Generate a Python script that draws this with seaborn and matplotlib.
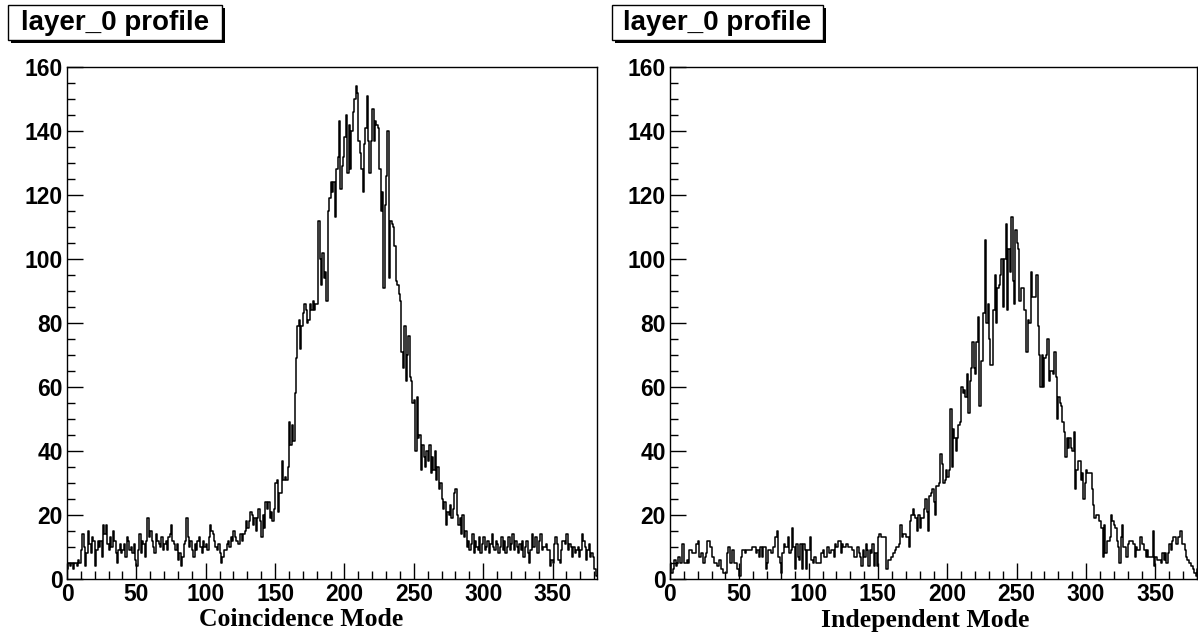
import numpy as np
import pandas as pd
import matplotlib
matplotlib.use("Agg")
import matplotlib.pyplot as plt
import seaborn as sns
from matplotlib.patches import Rectangle
from matplotlib.ticker import MultipleLocator

# ---- data (counts per unit-wide bin) ----
coincidence_counts = [
    3, 5, 4, 5, 3, 5, 5, 4, 6, 5,
    9, 14, 10, 4, 8, 15, 11, 8, 13, 12,
    4, 9, 12, 10, 12, 7, 17, 14, 17, 11,
    9, 13, 10, 15, 12, 8, 5, 9, 11, 8,
    9, 11, 7, 13, 12, 9, 10, 8, 11, 6,
    4, 9, 14, 8, 12, 11, 7, 12, 19, 13,
    15, 12, 10, 8, 14, 12, 11, 10, 13, 9,
    11, 12, 9, 13, 14, 17, 12, 11, 9, 11,
    6, 8, 4, 7, 11, 12, 19, 13, 10, 12,
    9, 7, 11, 9, 12, 13, 10, 8, 12, 10,
    11, 9, 13, 17, 15, 14, 12, 10, 9, 11,
    8, 5, 7, 9, 9, 11, 12, 10, 13, 12,
    15, 13, 12, 11, 11, 14, 12, 14, 15, 18,
    16, 18, 21, 20, 17, 19, 15, 19, 22, 18,
    13, 20, 16, 24, 22, 24, 19, 21, 18, 22,
    30, 31, 21, 27, 27, 37, 31, 32, 31, 35,
    49, 42, 48, 43, 58, 69, 79, 81, 72, 79,
    83, 86, 84, 80, 81, 86, 84, 87, 84, 86,
    86, 112, 100, 92, 102, 94, 96, 87, 115, 119,
    124, 121, 124, 113, 128, 132, 143, 122, 129, 132,
    138, 145, 127, 142, 128, 140, 146, 150, 154, 152,
    137, 133, 128, 121, 136, 141, 151, 137, 127, 137,
    147, 137, 143, 142, 141, 128, 115, 121, 91, 117,
    126, 140, 94, 112, 111, 110, 104, 93, 92, 89,
    87, 71, 66, 79, 62, 70, 76, 63, 62, 55,
    56, 40, 57, 44, 45, 34, 42, 38, 35, 40,
    37, 42, 33, 38, 34, 40, 31, 35, 28, 30,
    25, 22, 24, 17, 21, 20, 23, 19, 22, 27,
    28, 20, 17, 19, 14, 20, 13, 15, 10, 12,
    9, 11, 14, 8, 12, 10, 9, 13, 8, 11,
    13, 9, 10, 12, 8, 11, 14, 10, 9, 12,
    11, 8, 10, 13, 9, 12, 8, 10, 13, 9,
    11, 14, 9, 12, 10, 8, 11, 9, 12, 7,
    10, 12, 8, 5, 9, 14, 10, 13, 13, 8,
    12, 14, 9, 10, 10, 11, 9, 9, 4, 6,
    5, 11, 13, 11, 6, 5, 9, 12, 12, 11,
    14, 9, 11, 10, 7, 10, 8, 9, 10, 7,
    9, 14, 12, 10, 6, 9, 11, 7, 8, 7,
    3, 1,
]

independent_counts = [
    5, 2, 3, 6, 4, 5, 7, 5, 5, 11,
    5, 5, 6, 5, 9, 9, 8, 8, 8, 11,
    12, 7, 8, 8, 5, 7, 8, 12, 12, 10,
    7, 7, 5, 5, 4, 6, 6, 3, 2, 2,
    2, 8, 10, 5, 5, 9, 5, 5, 3, 3,
    1, 7, 9, 9, 8, 9, 9, 9, 9, 10,
    10, 10, 8, 9, 7, 10, 7, 10, 10, 3,
    5, 9, 9, 8, 10, 10, 13, 15, 7, 5,
    2, 8, 11, 10, 10, 13, 8, 9, 16, 10,
    3, 11, 7, 6, 11, 3, 11, 9, 3, 9,
    9, 13, 6, 5, 7, 5, 5, 5, 5, 8,
    9, 7, 7, 10, 10, 8, 9, 9, 7, 11,
    10, 12, 12, 8, 11, 10, 10, 11, 10, 10,
    10, 9, 9, 7, 7, 10, 8, 7, 4, 9,
    7, 11, 9, 4, 9, 8, 11, 4, 8, 4,
    13, 14, 13, 13, 13, 13, 3, 6, 6, 7,
    7, 8, 9, 10, 10, 11, 17, 13, 14, 14,
    13, 13, 10, 18, 20, 22, 20, 19, 15, 20,
    16, 19, 19, 22, 25, 21, 15, 26, 27, 28,
    24, 20, 29, 29, 30, 39, 36, 30, 31, 34,
    32, 34, 53, 35, 47, 44, 40, 44, 48, 49,
    60, 58, 59, 57, 64, 52, 62, 66, 74, 66,
    64, 74, 82, 54, 68, 68, 83, 106, 80, 86,
    75, 67, 67, 84, 95, 80, 91, 92, 95, 100,
    85, 100, 111, 84, 103, 96, 113, 93, 86, 109,
    105, 103, 87, 91, 91, 84, 84, 71, 81, 80,
    96, 88, 88, 88, 95, 79, 70, 60, 70, 60,
    69, 70, 75, 62, 65, 65, 64, 71, 63, 50,
    57, 55, 54, 49, 46, 38, 44, 41, 44, 41,
    40, 46, 28, 34, 37, 37, 31, 33, 25, 30,
    34, 33, 33, 33, 28, 23, 19, 20, 20, 18,
    18, 16, 7, 17, 8, 12, 12, 13, 20, 18,
    17, 16, 12, 10, 5, 13, 17, 10, 10, 7,
    11, 12, 12, 12, 11, 7, 10, 9, 9, 13,
    11, 11, 9, 7, 9, 7, 7, 7, 15, 4,
    7, 6, 6, 6, 5, 8, 6, 8, 5, 8,
    11, 9, 12, 13, 13, 11, 13, 13, 15, 11,
    11, 9, 7, 6, 5, 5, 4, 3, 2, 1,
    3, 3,
]

panel_titles = ["layer_0 profile", "layer_0 profile"]
x_labels = ["Coincidence Mode", "Independent Mode"]
x_tick_values = [0, 50, 100, 150, 200, 250, 300, 350]
y_tick_values = [0, 20, 40, 60, 80, 100, 120, 140, 160]

# ---- style ----
sns.set_theme(style="white")
plt.rcParams['font.family'] = ['Liberation Sans', 'DejaVu Sans']
plt.rcParams['font.weight'] = 'bold'

W, H = 1198, 636
fig = plt.figure(figsize=(W / 100, H / 100), dpi=100)


def fx(px):
    return px / W


def fy(py):
    return 1 - py / H


# axes rectangles in pixels: (left, right, top, bottom)
axes_px = [(67, 597, 67, 579), (670, 1197, 67, 579)]
xlims = [382, 380]
title_boxes = [(8, 222, 5, 40), (612, 823, 5, 40)]
label_centers = [301, 925]

for i, counts in enumerate([coincidence_counts, independent_counts]):
    l, r, t, b = axes_px[i]
    ax = fig.add_axes([fx(l), fy(b), fx(r) - fx(l), fy(t) - fy(b)])
    n = len(counts)
    df = pd.DataFrame({"channel": np.arange(n) + 0.5,
                       "count": np.asarray(counts, dtype=float)})
    sns.histplot(data=df, x="channel", weights="count", binwidth=1,
                 binrange=(0, n), element="step", fill=False,
                 color="black", linewidth=1.1, ax=ax)
    ax.set_xlim(0, xlims[i])
    ax.set_ylim(0, 160)
    ax.set_xlabel("")
    ax.set_ylabel("")
    ax.set_xticks(x_tick_values)
    ax.set_yticks(y_tick_values)
    ax.xaxis.set_minor_locator(MultipleLocator(10))
    ax.yaxis.set_minor_locator(MultipleLocator(5))
    ax.tick_params(which="both", direction="in", bottom=True, left=True,
                   top=False, right=False, color="black", width=1.0)
    ax.tick_params(which="major", length=11.5, labelsize=16.5, pad=3,
                   labelcolor="black")
    ax.tick_params(which="minor", length=5.8)
    for lbl in ax.get_xticklabels() + ax.get_yticklabels():
        lbl.set_fontweight("bold")
    for sp in ax.spines.values():
        sp.set_visible(True)
        sp.set_color("black")
        sp.set_linewidth(1.0)
    ax.grid(False)

    # title box with shadow (ROOT style)
    bx0, bx1, by0, by1 = title_boxes[i]
    shadow = Rectangle((fx(bx0 + 3), fy(by1 + 3)), fx(bx1 - bx0), fy(by0) - fy(by1),
                       transform=fig.transFigure, facecolor="black",
                       edgecolor="black", lw=0)
    box = Rectangle((fx(bx0), fy(by1)), fx(bx1 - bx0), fy(by0) - fy(by1),
                    transform=fig.transFigure, facecolor="white",
                    edgecolor="black", lw=1.0)
    fig.add_artist(shadow)
    fig.add_artist(box)
    fig.text(fx((bx0 + bx1) / 2), fy((by0 + by1) / 2 + 1), panel_titles[i],
             ha="center", va="center", fontsize=20, fontweight="bold",
             family=["Liberation Sans", "DejaVu Sans"], color="black")

    fig.text(fx(label_centers[i]), fy(620), x_labels[i], ha="center",
             va="center", fontsize=18.5, fontweight="bold",
             family=["Liberation Serif", "DejaVu Serif"], color="black")

fig.savefig("out.png", dpi=100, facecolor="white")
